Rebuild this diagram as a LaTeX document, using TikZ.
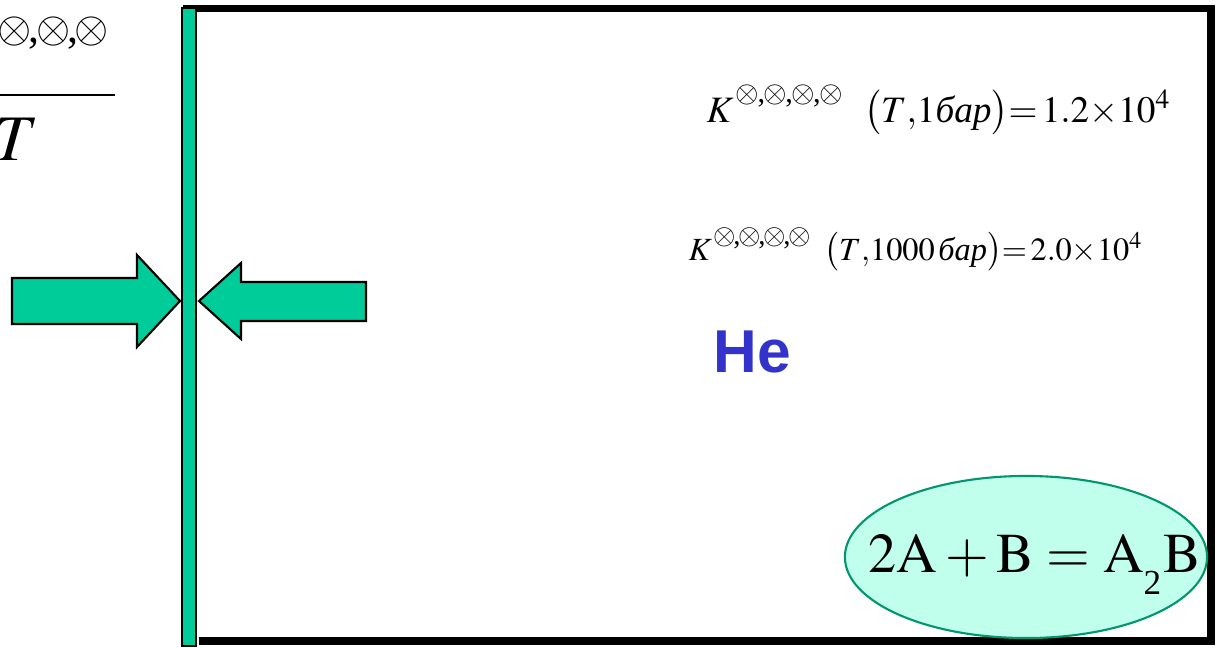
\documentclass[tikz,border=0pt]{standalone}
\usepackage{mathptmx}
\usepackage{fontspec}
\setmainfont{Liberation Serif}
\newfontfamily\hefont{Liberation Sans}
\usetikzlibrary{shapes.geometric}
\definecolor{wallgreen}{RGB}{0,204,153}
\definecolor{ovalfill}{RGB}{192,255,236}
\definecolor{ovaldraw}{RGB}{0,150,110}
\definecolor{heblue}{RGB}{51,51,204}
\newcommand{\oplain}{\makebox[0pt]{$\otimes$}}
\newcommand{\cmark}{\makebox[0pt]{,}}
% size, half period, raise
\newcommand{\stdmark}[3]{\raisebox{#3}{\fontsize{#1}{#1}\selectfont\kern#2\oplain\kern#2\cmark\kern#2\oplain\kern#2\cmark\kern#2\oplain\kern#2\cmark\kern#2\oplain\kern#2}}
\tikzset{frame/.style={line width=2pt,draw=black},wall/.style={draw=black,fill=wallgreen,line width=0.5pt},push/.style={draw=black,fill=wallgreen,line width=0.6pt,line join=miter},eqn/.style={inner sep=0pt,anchor=base west},oval/.style={ellipse,draw=ovaldraw,fill=ovalfill,line width=0.6pt,minimum width=3.62cm,minimum height=1.62cm,inner sep=0pt}}
\begin{document}
\begin{tikzpicture}[x=0.01cm,y=-0.01cm]
\useasboundingbox(0,0)rectangle(1217,648);
% cut-off fraction at the left
\node[inner sep=0pt,anchor=base east,font=\fontsize{12.5}{14}\selectfont](num)at(112,42){\kern5.5pt\oplain\kern5.5pt\cmark\kern5.5pt\oplain\kern5.5pt\cmark\kern5.5pt\oplain\kern5.5pt};
\draw[line width=0.85pt](-10,95)--(115,95);
\node[eqn,font=\fontsize{18.5}{20}\selectfont](den)at(-6,160){$T$};
% vessel and wall
\draw[frame](183,8.5)--(1211,8.5)--(1211,641)--(199,641);
\node[oval](react)at(1026,557){};
\node[eqn,font=\fontsize{16}{18}\selectfont](eq)at(868,572){$2\mathrm{A}+\mathrm{B}=\mathrm{A}_{\lower4pt\hbox{\fontsize{10}{10}\selectfont 2}}\mathrm{B}$};
\draw[wall](182,8)rectangle(196,646);
\draw[push](12,278)--(137,278)--(137,255)--(180,301)--(137,347)--(137,324)--(12,324)--cycle;
\draw[push](366,282)--(241,282)--(241,263)--(199,301)--(241,339)--(241,321)--(366,321)--cycle;
% constants
\node[eqn,font=\fontsize{10.6}{14}\selectfont](kone)at(706,122){$K^{\stdmark{8.6}{3.95pt}{1.6pt}}\kern5pt\bigl(T{,}1\textit{бар}\bigr){=}\mkern2mu1.2{\times}10^4$};
\node[eqn,font=\fontsize{9.2}{11}\selectfont](ktwo)at(688,260){$K^{\stdmark{8.2}{3.55pt}{1.1pt}}\kern3pt\bigl(T{,}1000\,\textit{бар}\bigr){=}\mkern2mu2.0{\times}10^4$};
\node[eqn,font=\hefont\bfseries\fontsize{17.2}{18}\selectfont,text=heblue](gas)at(713,372){He};
\end{tikzpicture}
\end{document}
